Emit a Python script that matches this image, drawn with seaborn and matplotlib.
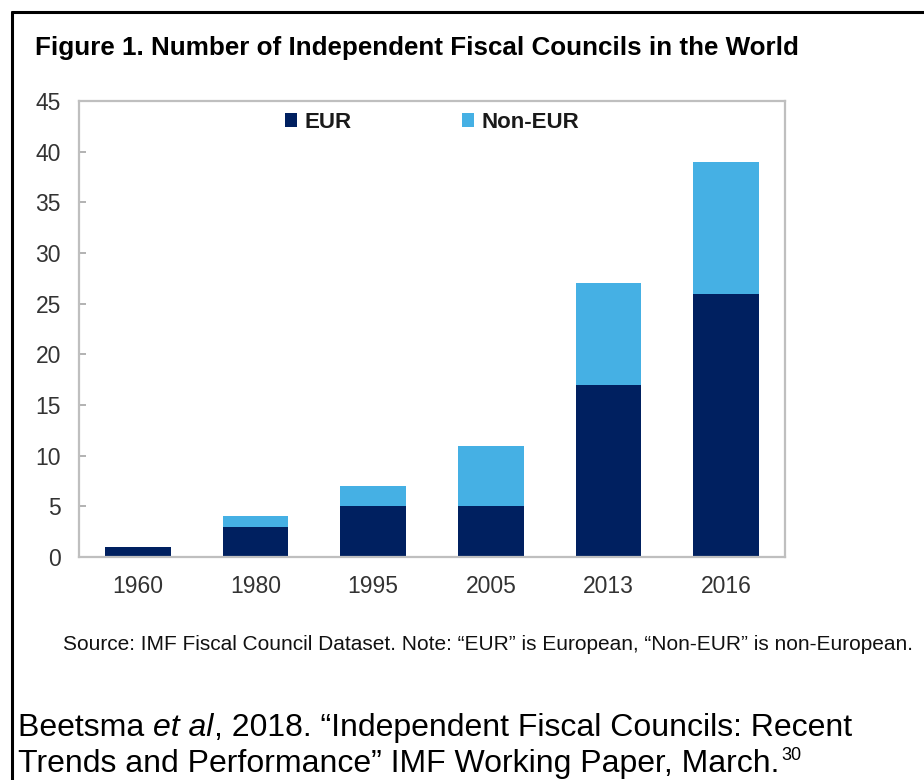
import matplotlib
matplotlib.use("Agg")
import matplotlib.pyplot as plt
import seaborn as sns
from matplotlib.lines import Line2D
from matplotlib.patches import Patch

years = ["1960", "1980", "1995", "2005", "2013", "2016"]
eur = [1, 3, 5, 5, 17, 26]
non_eur = [0, 1, 2, 6, 10, 13]
yticks = [0, 5, 10, 15, 20, 25, 30, 35, 40, 45]

title = "Figure 1. Number of Independent Fiscal Councils in the World"
source = "Source: IMF Fiscal Council Dataset. Note: \u201cEUR\u201d is European, \u201cNon-EUR\u201d is non-European."
cite1 = ["Beetsma ", "et al", ", 2018. \u201cIndependent Fiscal Councils: Recent"]
cite2 = ["Trends and Performance\u201d IMF Working Paper, March.", "30"]

EUR_C = "#002060"
NON_C = "#45B0E4"

sns.set_theme(style="white")
plt.rcParams["font.family"] = ["Liberation Sans", "DejaVu Sans"]

W, H = 924, 780
fig = plt.figure(figsize=(W / 100, H / 100), dpi=100)
ax = fig.add_axes([79 / W, 1 - 557 / H, (785 - 79) / W, (557 - 101) / H])

sns.barplot(x=years, y=eur, color=EUR_C, width=0.56, saturation=1, ax=ax, order=years, linewidth=0)
sns.barplot(x=years, y=non_eur, bottom=eur, color=NON_C, width=0.56, saturation=1, ax=ax, order=years, linewidth=0)

ax.set_ylim(0, 45)
ax.set_yticks(yticks)
ax.set_yticklabels([str(v) for v in yticks], fontsize=16.5, color="#333333")
for lab in ax.get_xticklabels():
    lab.set_fontsize(16.5)
    lab.set_color("#333333")
ax.tick_params(axis="y", direction="in", length=5, width=1.2, color="#A6A6A6", pad=13, left=True)
ax.tick_params(axis="x", length=0, pad=13)
for s in ax.spines.values():
    s.set_visible(True)
    s.set_color("#BFBFBF")
    s.set_linewidth(1.6)
ax.set_xlabel("")
ax.set_ylabel("")

handles = [Patch(facecolor=EUR_C, edgecolor="none", label="EUR"),
           Patch(facecolor=NON_C, edgecolor="none", label="Non-EUR")]
leg = ax.legend(handles=handles, loc="upper center", bbox_to_anchor=(0.5, 1.02), ncol=2,
                frameon=False, handlelength=0.55, handleheight=0.55, handletextpad=0.3,
                columnspacing=5.0, prop={"weight": "bold", "size": 16})
for t in leg.get_texts():
    t.set_color("#1a1a1a")

fig.text(35 / W, 1 - 55 / H, title, fontsize=18.7, fontweight="bold", color="black", ha="left", va="baseline")
fig.text(488 / W, 1 - 650 / H, source, fontsize=15, color="#111111", ha="center", va="baseline")

# frame lines
fig.add_artist(Line2D([12 / W, 1.0], [1 - 12 / H, 1 - 12 / H], color="black", lw=2.2))
fig.add_artist(Line2D([12 / W, 12 / W], [0, 1 - 12 / H], color="black", lw=2.2))

fig.canvas.draw()
renderer = fig.canvas.get_renderer()

def run_text(x_px, y_px, parts, styles):
    x = x_px
    for txt, st in zip(parts, styles):
        t = fig.text(x / W, 1 - y_px / H, txt, ha="left", va="baseline", color="black", **st)
        bb = t.get_window_extent(renderer=renderer)
        x = bb.x1
    return x

fs = 23
run_text(18, 736, cite1, [dict(fontsize=fs), dict(fontsize=fs, style="italic"), dict(fontsize=fs)])
x_end = run_text(18, 772, [cite2[0]], [dict(fontsize=fs)])
fig.text((x_end + 2) / W, 1 - 760 / H, cite2[1], fontsize=13, ha="left", va="baseline", color="black")

fig.savefig("out.png", dpi=100)
